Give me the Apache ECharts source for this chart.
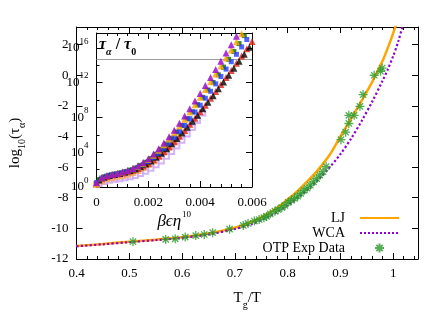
<!DOCTYPE html>
<html><head><meta charset="utf-8">
<script src="https://cdn.jsdelivr.net/npm/echarts@6/dist/echarts.min.js"></script>
<style>html,body{margin:0;padding:0;background:#fff}#c{width:424px;height:318px}</style>
</head><body><div id="c"></div>
<script>
// ---- main panel data ----
const ljX = [0.40,0.45,0.50,0.55,0.60,0.65,0.70,0.73,0.76,0.78,0.80,0.82,0.84,0.86,0.88,0.90,0.92,0.94,0.96,0.98,0.99,1.00,1.01];
const ljY = [-11.15,-11.02,-10.87,-10.74,-10.58,-10.34,-9.96,-9.6,-9.08,-8.66,-8.12,-7.52,-6.84,-6.08,-5.18,-4.0,-2.85,-1.68,-0.45,0.95,1.8,2.75,3.8];
const wcaX = [0.40,0.45,0.50,0.55,0.60,0.65,0.70,0.73,0.76,0.78,0.80,0.82,0.84,0.86,0.88,0.90,0.92,0.94,0.96,0.98,0.99,1.00,1.01,1.02];
const wcaY = [-11.17,-11.04,-10.9,-10.77,-10.62,-10.4,-10.04,-9.74,-9.3,-8.93,-8.48,-7.98,-7.4,-6.75,-6.0,-5.15,-4.15,-3.0,-1.74,-0.35,0.4,1.25,2.25,3.5];
const otpX = [0.507,0.569,0.587,0.606,0.626,0.642,0.658,0.69,0.716,0.725,0.737,0.746,0.755,0.76,0.767,0.776,0.782,0.789,0.795,0.801,0.807,0.813,0.819,0.825,0.831,0.837,0.843,0.849,0.855,0.861,0.867,0.873,0.901,0.91,0.916,0.916,0.926,0.937,0.943,0.964,0.976,0.979];
const otpY = [-10.87,-10.72,-10.68,-10.57,-10.47,-10.4,-10.28,-10.05,-9.81,-9.68,-9.52,-9.42,-9.3,-9.22,-9.05,-8.88,-8.78,-8.64,-8.5,-8.3,-8.18,-8.05,-7.9,-7.72,-7.52,-7.38,-7.18,-6.96,-6.75,-6.52,-6.3,-5.97,-4.21,-3.72,-3.15,-2.62,-2.62,-2.03,-1.27,0.0,0.26,0.47];
const seriesNames = ['LJ','WCA','OTP Exp Data'];

// ---- inset data (log10 of tau_alpha/tau_0) ----
const insetXa = [0,0.0002,0.0004,0.0006,0.0008,0.001,0.0012,0.0014,0.0016,0.0018,0.002,0.0022,0.0024,0.0026,0.0028,0.003,0.0032,0.0034,0.0036,0.0038,0.004,0.0042,0.0044,0.0046,0.0048,0.005,0.0052,0.0054,0.0056,0.0058,0.006];
const insetXb = [0.0001,0.0003,0.0005,0.0007,0.0009,0.0011,0.0013,0.0015,0.0017,0.0019,0.0021,0.0023,0.0025,0.0027,0.0029,0.0031,0.0033,0.0035,0.0037,0.0039,0.0041,0.0043,0.0045,0.0047,0.0049,0.0051,0.0053,0.0055,0.0057,0.0059];
const purpleY = [0.5,1.06,1.29,1.44,1.56,1.71,1.9,2.14,2.45,2.82,3.26,3.8,4.4,5.06,5.77,6.53,7.33,8.16,9.0,9.88,10.76,11.67,12.59,13.51,14.46,15.4,16.36,17.33,18.3];
const orangeY = [0.4,1.05,1.28,1.43,1.55,1.69,1.87,2.1,2.39,2.74,3.15,3.65,4.22,4.85,5.52,6.24,7.0,7.8,8.62,9.45,10.32,11.2,12.1,13.0,13.9,14.82,15.75,16.68,17.6];
const blueY = [0.5,1.03,1.26,1.41,1.52,1.64,1.8,2.0,2.25,2.56,2.93,3.37,3.88,4.44,5.05,5.7,6.4,7.1,7.85,8.62,9.4,10.2,11.0,11.85,12.7,13.55,14.4,15.25,16.1,16.95,17.8];
const redY = [null,0.95,1.2,1.37,1.49,1.6,1.74,1.92,2.13,2.4,2.74,3.12,3.55,4.05,4.6,5.2,5.83,6.5,7.2,7.91,8.66,9.41,10.19,10.97,11.77,12.58,13.4,14.22,15.05,15.89,16.73];
const pinkY = [0.3,0.7,0.95,1.1,1.2,1.32,1.47,1.66,1.9,2.2,2.58,3.02,3.52,4.08,4.7,5.36];
const greenY = [0.85,1.17,1.35,1.48,1.6,1.75,1.94,2.18,2.48,2.84,3.26,3.76,4.32,4.94,5.61,6.32,7.07,7.84,8.64,9.46,10.3,11.15,12.01,12.89,13.77,14.67,15.57,16.48,17.4,18.3];
const blackY = [0.8,1.13,1.32,1.45,1.56,1.7,1.86,2.07,2.33,2.63,2.99,3.41,3.88,4.4,4.96,5.56,6.2,6.86,7.55,8.26,8.99,9.74,10.5,11.28,12.06,12.85,13.65,14.45,15.26,16.07];
const lilacY = [0.4,0.62,0.78,0.88,0.96,1.05,1.17,1.33,1.55,1.82,2.15,2.55,3.0,3.52,4.08,4.7,5.38,6.1,6.85,7.65,8.5];
const grayLineY = 14.7;

const serif = 'Liberation Serif';
const zip = (xs, ys) => ys.map((y, i) => [xs[i], y]).filter(p => p[1] != null);
const star = 'path://M0,-10L0,10M-10,0L10,0M-7,-7L7,7M-7,7L7,-7';

const tickCommon = {show: true, inside: true, length: 6, lineStyle: {color: '#000', width: 1}};
const minorCommon = {show: true, length: 3, lineStyle: {color: '#000', width: 1}};
const lineCommon = {show: true, onZero: false, lineStyle: {color: '#000', width: 1}};
const lblFont = {fontFamily: serif, fontSize: 13, color: '#000'};

function insetSeries(xs, ys, color, symbol, size, extra) {
  return Object.assign({
    type: 'scatter', xAxisIndex: 2, yAxisIndex: 2, data: zip(xs, ys),
    symbol: symbol, symbolSize: size, itemStyle: {color: color}, silent: true, z: 5
  }, extra || {});
}

const chart = echarts.init(document.getElementById('c'), null, {renderer: 'canvas'});
chart.setOption({
  animation: false,
  backgroundColor: '#fff',
  title: [{
    text: '{i|τ}{sub|α}{n| / }{i|τ}{sub0|0}',
    left: 99, top: 36, padding: 0,
    textStyle: {rich: {
      i: {fontFamily: serif, fontStyle: 'italic', fontSize: 16, color: '#000', lineHeight: 18},
      n: {fontFamily: serif, fontSize: 16, color: '#000', lineHeight: 18},
      sub: {fontFamily: serif, fontStyle: 'italic', fontSize: 10, color: '#000', verticalAlign: 'bottom', padding: [0, 0, -3, 0]},
      sub0: {fontFamily: serif, fontSize: 10, color: '#000', verticalAlign: 'bottom', padding: [0, 0, -3, 0]}
    }}
  }],
  legend: {
    data: [
      {name: seriesNames[0], itemStyle: {opacity: 0}},
      {name: seriesNames[1], itemStyle: {opacity: 0}},
      {name: seriesNames[2]}
    ],
    orient: 'vertical', right: 24, top: 210.5, align: 'right',
    itemWidth: 39, itemHeight: 9, itemGap: 0, padding: 0, selectedMode: false,
    textStyle: {fontFamily: serif, fontSize: 14, lineHeight: 15, color: '#000', padding: [0, 10, 0, 0]}
  },
  grid: [
    {left: 63, right: 6, top: 27, bottom: 59},
    {left: 96.5, right: 172, top: 33, bottom: 131, show: true, backgroundColor: '#fff', borderWidth: 0, z: 3}
  ],
  xAxis: [
    {type: 'value', gridIndex: 0, min: 0.4, max: 1.047, interval: 0.1, position: 'bottom',
     axisLine: lineCommon, axisTick: tickCommon, minorTick: Object.assign({splitNumber: 5}, minorCommon),
     splitLine: {show: false}, axisLabel: Object.assign({margin: 8, showMaxLabel: false}, lblFont),
     name: '{n|T}{sub|g}{n|/T}', nameLocation: 'middle', nameGap: 30,
     nameTextStyle: {rich: {
       n: {fontFamily: serif, fontSize: 15, color: '#000', lineHeight: 18},
       sub: {fontFamily: serif, fontSize: 10, color: '#000', verticalAlign: 'bottom', padding: [0, 0, -3, 0]}
     }}},
    {type: 'value', gridIndex: 0, min: 0.4, max: 1.047, interval: 0.1, position: 'top',
     axisLine: lineCommon, axisTick: tickCommon, minorTick: Object.assign({splitNumber: 5}, minorCommon),
     splitLine: {show: false}, axisLabel: {show: false}},
    {type: 'value', gridIndex: 1, min: 0, max: 0.006, interval: 0.002, position: 'bottom',
     axisLine: lineCommon, axisTick: tickCommon, minorTick: Object.assign({splitNumber: 5}, minorCommon),
     splitLine: {show: false}, axisLabel: Object.assign({margin: 9}, lblFont), z: 4,
     name: '{i|βϵη}{sup|10}', nameLocation: 'middle', nameGap: 24,
     nameTextStyle: {rich: {
       i: {fontFamily: serif, fontStyle: 'italic', fontSize: 17, color: '#000', lineHeight: 20},
       sup: {fontFamily: serif, fontSize: 9, color: '#000', verticalAlign: 'top', padding: [-2, 0, 0, 1]}
     }}},
    {type: 'value', gridIndex: 1, min: 0, max: 0.006, interval: 0.002, position: 'top',
     axisLine: lineCommon, axisTick: tickCommon, minorTick: Object.assign({splitNumber: 5}, minorCommon),
     splitLine: {show: false}, axisLabel: {show: false}, z: 4}
  ],
  yAxis: [
    {type: 'value', gridIndex: 0, min: -12, max: 3.15, interval: 2, position: 'left',
     axisLine: lineCommon, axisTick: tickCommon, splitLine: {show: false},
     axisLabel: Object.assign({margin: 8, showMaxLabel: false}, lblFont),
     name: '{n|log}{sub|10}{n|(τ}{sub|α}{n|)}', nameLocation: 'middle', nameGap: 52, nameRotate: 90,
     nameTextStyle: {rich: {
       n: {fontFamily: serif, fontSize: 15, color: '#000', lineHeight: 18},
       sub: {fontFamily: serif, fontSize: 10, color: '#000', verticalAlign: 'bottom', padding: [0, 0, -3, 0]}
     }}},
    {type: 'value', gridIndex: 0, min: -12, max: 3.15, interval: 2, position: 'right',
     axisLine: lineCommon, axisTick: tickCommon, splitLine: {show: false}, axisLabel: {show: false}},
    {type: 'value', gridIndex: 1, min: 0, max: 17.7, interval: 4, position: 'left',
     axisLine: lineCommon, axisTick: tickCommon, minorTick: Object.assign({splitNumber: 2}, minorCommon),
     splitLine: {show: false}, z: 4,
     axisLabel: {margin: 8, showMaxLabel: false,
       formatter: v => '{b|10}{s|' + v + '}',
       rich: {
         b: {fontFamily: serif, fontSize: 13, color: '#000', lineHeight: 16},
         s: {fontFamily: serif, fontSize: 9, color: '#000', verticalAlign: 'top', padding: [-3, 0, 0, 0]}
       }}},
    {type: 'value', gridIndex: 1, min: 0, max: 17.7, interval: 4, position: 'right',
     axisLine: lineCommon, axisTick: tickCommon, minorTick: Object.assign({splitNumber: 2}, minorCommon),
     splitLine: {show: false}, axisLabel: {show: false}, z: 4}
  ],
  series: [
    {name: 'LJ', type: 'line', xAxisIndex: 0, yAxisIndex: 0, data: zip(ljX, ljY), smooth: 0.3,
     symbol: 'none', color: '#ffa500', lineStyle: {color: '#ffa500', width: 2.5}, z: 2},
    {name: 'WCA', type: 'line', xAxisIndex: 0, yAxisIndex: 0, data: zip(wcaX, wcaY), smooth: 0.3,
     symbol: 'none', color: '#9400d3', lineStyle: {color: '#9400d3', width: 2.2, type: 'dotted'}, z: 2},
    {name: 'OTP Exp Data', type: 'scatter', xAxisIndex: 0, yAxisIndex: 0, data: zip(otpX, otpY),
     symbol: star, symbolSize: 9, symbolKeepAspect: true,
     itemStyle: {color: '#2a9a2a', borderColor: '#2a9a2a', borderWidth: 1.3}, z: 3},
    insetSeries(insetXb, lilacY, '#c8a2f5', 'emptyRect', 5, {
      markLine: {silent: true, symbol: 'none', label: {show: false},
        lineStyle: {color: '#a0a0a0', width: 1.2, type: 'solid'}, data: [{yAxis: grayLineY}]}}),
    insetSeries(insetXa, pinkY, '#f7a35c', 'emptyRect', 5),
    insetSeries(insetXa, redY, '#e51e10', 'triangle', 7),
    insetSeries(insetXb, blackY, '#000000', 'triangle', 7),
    insetSeries(insetXb, greenY, '#006400', 'rect', 5),
    insetSeries(insetXa, blueY, '#1e3cff', 'rect', 5),
    insetSeries(insetXa, orangeY, '#ffa500', 'triangle', 7),
    insetSeries(insetXa, purpleY, '#9400d3', 'triangle', 7)
  ]
});
</script></body></html>
